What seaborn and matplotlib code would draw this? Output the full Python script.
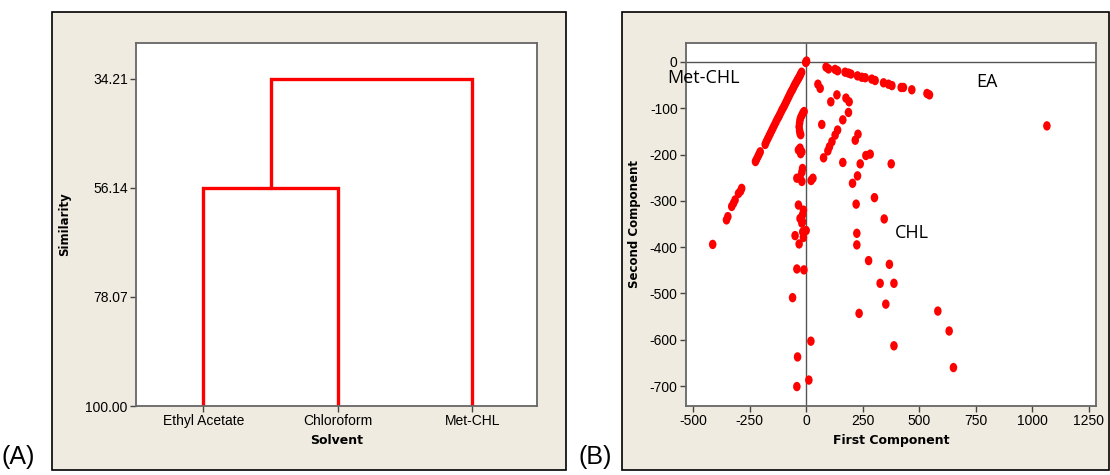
import matplotlib
matplotlib.use('Agg')
import matplotlib.pyplot as plt
import seaborn as sns
import pandas as pd
from matplotlib.patches import Rectangle
from matplotlib.path import Path
from matplotlib.transforms import Affine2D

# ---- data: dendrogram (panel A)
solvents = ['Ethyl Acetate', 'Chloroform', 'Met-CHL']
leaf_pos = [1, 2, 3]
merge_levels = [56.14, 34.21]     # EA+CHL first, then with Met-CHL
sim_ticks = [34.21, 56.14, 78.07, 100.00]

# ---- data: PCA scores (panel B)
# Met-CHL arm
met_x = [-20, -24, -27, -30, -34, -37, -41, -45, -49, -53, -57, -61, -66, -70, -75, -80,
         -85, -90, -95, -100, -106, -111, -117, -122, -128, -134, -140, -146, -152, -158,
         -164, -170, -176, -181, -203, -208, -213, -219, -224, -285, -290, -299, -314,
         -321, -329, -346, -352, -413]
met_y = [-22, -26, -29, -32, -35, -38, -41, -45, -48, -52, -56, -60, -64, -68, -73, -78,
         -83, -88, -93, -98, -103, -108, -114, -119, -124, -130, -136, -142, -148, -154,
         -160, -166, -172, -178, -194, -199, -204, -210, -215, -273, -279, -284, -298,
         -305, -312, -334, -341, -394]
# column near zero
col_x = [0, 2, -2, -9, -14, -19, -24, -27, -29, -31, -29, -27, -24, -34, -27, -19, -24, -16,
         -19, -41, -27, -19, 22, 30, -34, -12, -16, -27, -19, -16, -49, -15, 0, -12, -31,
         -41, -10, -60, 21, -38, 12, -41]
col_y = [0, 2, -1, -107, -110, -115, -120, -125, -132, -140, -148, -154, -157, -190, -186,
         -194, -198, -230, -238, -251, -249, -258, -256, -251, -309, -320, -330, -338, -348,
         -345, -375, -367, -364, -379, -393, -447, -449, -509, -603, -637, -687, -701]
# EA arc
ea_x = [88, 99, 128, 139, 172, 187, 198, 227, 246, 261, 290, 305, 342, 364, 379, 420, 430,
        467, 534, 545, 1064]
ea_y = [-11, -15, -16, -19, -22, -24, -26, -30, -33, -34, -37, -40, -45, -48, -51, -55, -55,
        -60, -68, -71, -138]
# CHL spread
chl_x = [52, 62, 136, 109, 176, 190, 187, 162, 69, 139, 128, 114, 103, 96, 77, 229, 217, 283,
         264, 162, 239, 376, 227, 205, 302, 221, 345, 224, 224, 276, 368, 327, 388, 352, 234,
         582, 632, 388, 651]
chl_y = [-48, -57, -71, -86, -78, -86, -109, -125, -135, -147, -158, -172, -183, -192, -207,
         -156, -169, -199, -202, -217, -220, -220, -246, -262, -293, -307, -339, -370, -395,
         -429, -437, -478, -478, -523, -543, -538, -581, -613, -660]

scores = pd.DataFrame({'First Component': met_x + col_x + ea_x + chl_x,
                       'Second Component': met_y + col_y + ea_y + chl_y})

# ---- style
sns.set_style('white')
plt.rcParams['axes.unicode_minus'] = False
for k in ('text.color', 'axes.labelcolor', 'xtick.labelcolor', 'ytick.labelcolor'):
    plt.rcParams[k] = 'black'
tickfont = 'Liberation Sans'
beige = '#efebe0'
red = '#ff0000'

# slightly tall dots like the Minitab symbols
oval = Path.unit_circle().transformed(Affine2D().scale(0.8, 1.0))

fig = plt.figure(figsize=(11.1, 4.75), dpi=100)
fig.patch.set_facecolor('white')

# beige panel backgrounds
fig.patches.append(Rectangle((52/1110, 5/475), 514/1110, 458/475, transform=fig.transFigure,
                             facecolor=beige, edgecolor='black', linewidth=1.2, zorder=-5))
fig.patches.append(Rectangle((622/1110, 5/475), 487/1110, 458/475, transform=fig.transFigure,
                             facecolor=beige, edgecolor='black', linewidth=1.2, zorder=-5))

axA = fig.add_axes([136/1110, 69/475, 401/1110, 363/475])
axB = fig.add_axes([686/1110, 69/475, 410/1110, 363/475])

for ax in (axA, axB):
    ax.set_zorder(2)
    ax.set_facecolor('white')
    for s in ax.spines.values():
        s.set_color('#666666')
        s.set_linewidth(1.3)
    ax.tick_params(axis='both', which='both', direction='out', length=4, width=1,
                   color='#444444', left=True, bottom=True, labelsize=10, pad=2)

# ---- panel A: dendrogram
lo, hi = merge_levels
mid = (leaf_pos[0] + leaf_pos[1]) / 2
axA.plot([leaf_pos[0], leaf_pos[0], leaf_pos[1], leaf_pos[1]], [100, lo, lo, 100],
         color=red, lw=2.4, solid_joinstyle='miter')
axA.plot([mid, mid, leaf_pos[2], leaf_pos[2]], [lo, hi, hi, 100],
         color=red, lw=2.4, solid_joinstyle='miter')
axA.set_xlim(0.5, 3.48)
axA.set_ylim(100, 27)
axA.set_xticks(leaf_pos)
axA.set_xticklabels(solvents)
axA.set_yticks(sim_ticks)
axA.set_yticklabels([f'{v:.2f}' for v in sim_ticks])
axA.set_xlabel('Solvent', fontsize=9, fontweight='bold', labelpad=4)
axA.set_ylabel('Similarity', fontsize=8.5, fontweight='bold', labelpad=10)

# ---- panel B: score plot
axB.axhline(0, color='#555555', lw=1, zorder=1)
axB.axvline(0, color='#555555', lw=1, zorder=1)
sns.scatterplot(data=scores, x='First Component', y='Second Component', ax=axB,
                color=red, s=46, marker=oval, edgecolor='none', zorder=3)
axB.set_xlim(-531, 1281)
axB.set_ylim(-743, 41)
axB.set_xticks([-500, -250, 0, 250, 500, 750, 1000, 1250])
axB.set_yticks([0, -100, -200, -300, -400, -500, -600, -700])
axB.set_xlabel('First Component', fontsize=9, fontweight='bold', labelpad=4)
axB.set_ylabel('Second Component', fontsize=8.5, fontweight='bold', labelpad=6)

axB.text(-615, -35, 'Met-CHL', fontsize=13, family='Open Sans', va='center', ha='left',
         clip_on=False, zorder=4)
axB.text(799, -43, 'EA', fontsize=13, family='Open Sans', va='center', ha='center')
axB.text(467, -370, 'CHL', fontsize=13, family='Open Sans', va='center', ha='center')

for ax in (axA, axB):
    for lab in ax.get_xticklabels() + ax.get_yticklabels():
        lab.set_family(tickfont)

fig.text(0.001, 0.012, '(A)', fontsize=18, family='Liberation Sans', ha='left', va='bottom')
fig.text(578/1110, 0.012, '(B)', fontsize=18, family='Liberation Sans', ha='left', va='bottom')

fig.savefig('out.png', dpi=100)
